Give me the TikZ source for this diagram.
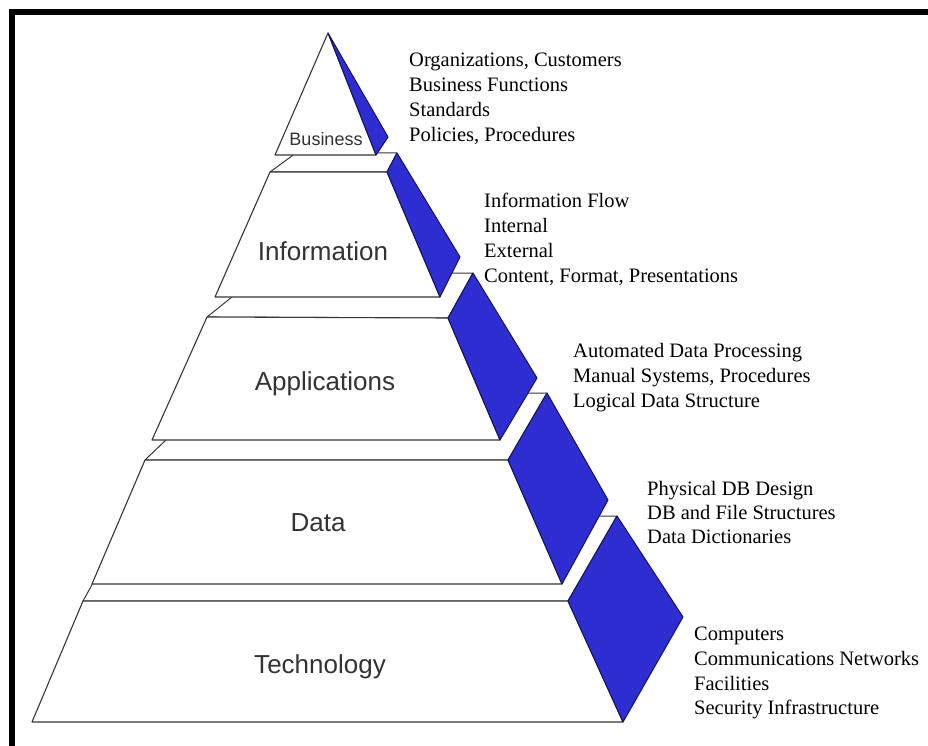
\documentclass[tikz,border=0pt]{standalone}
\usepackage{fontspec}
\setmainfont{Liberation Serif}
\setsansfont{Liberation Sans}
\definecolor{sideblue}{RGB}{45,45,210}
\definecolor{edgegray}{RGB}{55,55,55}

\begin{document}
\begin{tikzpicture}[
    x=1pt, y=-1pt,
    front/.style={fill=white, draw=edgegray, line width=1.1pt, line join=round},
    topface/.style={fill=white, draw=edgegray, line width=1pt, line join=round},
    side/.style={fill=sideblue, draw=sideblue!45!black, line width=1pt, line join=round},
    layer/.style={font=\sffamily\fontsize{26}{30}\selectfont, text=black!80,
        inner sep=0pt, anchor=base},
    note/.style={font=\fontsize{20.5}{24}\selectfont, inner sep=0pt, anchor=base west},
]
\useasboundingbox (0,0) rectangle (928,746);

% === FRAME ===
\fill[black] (9,9) rectangle (928,15);
\fill[black] (9,9) rectangle (15,746);

% === TECHNOLOGY ===
\draw[topface] (83,601) -- (130,516) -- (617,516) -- (568,601) -- cycle;
\draw[front] (32,722) -- (83,601) -- (568,601) -- (623,722) -- cycle;
\draw[side] (568,601) -- (617,516) -- (683,617) -- (623,722) -- cycle;

% === DATA ===
\draw[topface] (145,460) -- (215,393) -- (547,393) -- (508,460) -- cycle;
\draw[front] (92,584) -- (145,460) -- (508,460) -- (562,584) -- cycle;
\draw[side] (508,460) -- (547,393) -- (608,500) -- (562,584) -- cycle;

% === APPLICATIONS ===
\draw[topface] (207,317) -- (262,273) -- (473,273) -- (448,318) -- cycle;
\draw[front] (152,440) -- (207,317) -- (448,318) -- (500,440) -- cycle;
\draw[side] (448,318) -- (473,273) -- (537,378) -- (500,440) -- cycle;

% === INFORMATION ===
\draw[topface] (270,172) -- (296,153) -- (397,153) -- (387,172) -- cycle;
\draw[front] (215,297) -- (270,172) -- (387,172) -- (440,297) -- cycle;
\draw[side] (387,172) -- (397,153) -- (460,257) -- (440,297) -- cycle;

% === BUSINESS ===
\draw[front] (275,155) -- (328,33) -- (376,155) -- cycle;
\draw[side] (328,33) -- (388,137) -- (376,155) -- cycle;

% Layer names
\node[layer, font=\sffamily\fontsize{18}{20}\selectfont] (lbus) at (326,146) {Business};
\node[layer] (linfo) at (323,260) {Information};
\node[layer] (lapps) at (325,390) {Applications};
\node[layer] (ldata) at (318,531) {Data};
\node[layer] (ltech) at (320,673) {Technology};

% === NOTES ===
\node[note] (orgs) at (409,67) {Organizations, Customers};
\node[note] (busfunc) at (409,92) {Business Functions};
\node[note] (standards) at (409,117) {Standards};
\node[note] (policies) at (409,142) {Policies, Procedures};

\node[note] (infoflow) at (484,207) {Information Flow};
\node[note] (internal) at (484,232) {Internal};
\node[note] (external) at (484,257) {External};
\node[note] (content) at (484,282) {Content, Format, Presentations};

\node[note] (autoproc) at (573,357) {Automated Data Processing};
\node[note] (manual) at (573,382) {Manual Systems, Procedures};
\node[note] (logical) at (573,407) {Logical Data Structure};

\node[note] (physdb) at (647,495) {Physical DB Design};
\node[note] (filestruct) at (647,519) {DB and File Structures};
\node[note] (dicts) at (647,543) {Data Dictionaries};

\node[note] (computers) at (694,640) {Computers};
\node[note] (networks) at (694,665) {Communications Networks};
\node[note] (facilities) at (694,690) {Facilities};
\node[note] (security) at (694,714) {Security Infrastructure};

\end{tikzpicture}
\end{document}
